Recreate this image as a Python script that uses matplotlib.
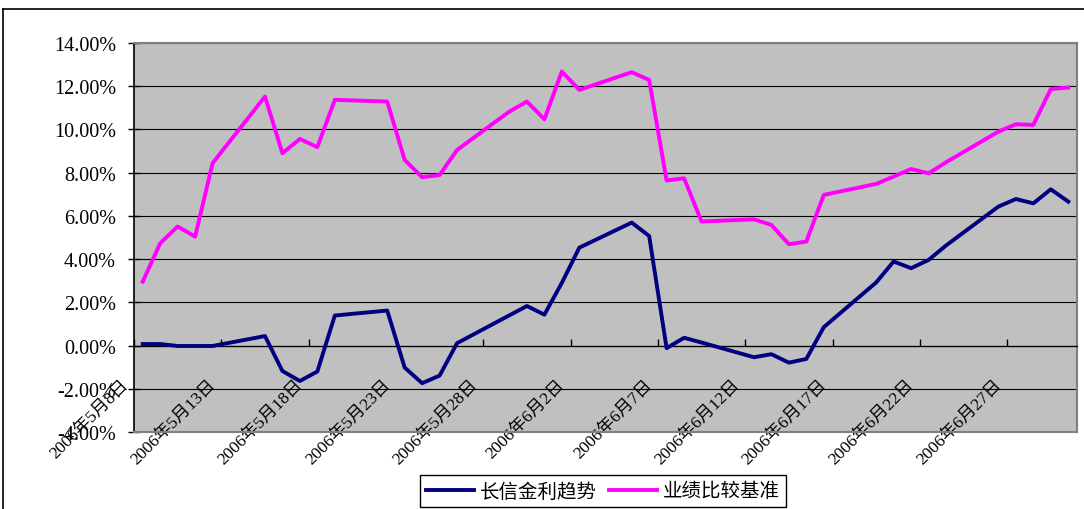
import numpy as np
import matplotlib
matplotlib.use('Agg')
import matplotlib.pyplot as plt
import matplotlib.dates as mdates
from matplotlib.transforms import ScaledTranslation
from matplotlib.lines import Line2D
import datetime as dt

plt.rcParams['font.family'] = ['Liberation Serif', 'Noto Sans CJK SC']

# trading days, 2006
dates = ['05-08', '05-09', '05-10', '05-11', '05-12', '05-15', '05-16', '05-17', '05-18',
         '05-19', '05-22', '05-23', '05-24', '05-25', '05-26', '05-29', '05-30', '05-31',
         '06-01', '06-02', '06-05', '06-06', '06-07', '06-08', '06-09', '06-12', '06-13',
         '06-14', '06-15', '06-16', '06-19', '06-20', '06-21', '06-22', '06-23', '06-26',
         '06-27', '06-28', '06-29', '06-30']

fund = [0.07, 0.07, -0.02, -0.02, -0.02, 0.44, -1.18, -1.64, -1.20,
        1.39, 1.62, -1.02, -1.74, -1.39, 0.11, 1.40, 1.83, 1.43,
        2.90, 4.53, 5.69, 5.07, -0.12, 0.36, 0.14, -0.54, -0.40,
        -0.79, -0.62, 0.85, 2.92, 3.89, 3.58, 3.96, 4.63, 6.43,
        6.78, 6.58, 7.23, 6.66]

bench = [2.96, 4.73, 5.51, 5.04, 8.44, 11.52, 8.90, 9.56, 9.18,
         11.37, 11.29, 8.59, 7.79, 7.89, 9.05, 10.83, 11.29, 10.47,
         12.68, 11.83, 12.65, 12.29, 7.64, 7.74, 5.74, 5.84, 5.58,
         4.69, 4.81, 6.97, 7.48, 7.82, 8.17, 7.97, 8.48, 9.90,
         10.24, 10.21, 11.87, 11.94]

tick_dates = ['05-08', '05-13', '05-18', '05-23', '05-28', '06-02', '06-07',
              '06-12', '06-17', '06-22', '06-27']
yticks = [-4, -2, 0, 2, 4, 6, 8, 10, 12, 14]
names = ['长信金利趋势', '业绩比较基准']


def to_num(s):
    m, d = s.split('-')
    return mdates.date2num(dt.datetime(2006, int(m), int(d)))


x = np.array([to_num(s) for s in dates]) + 0.5   # points sit mid-day
xt = [to_num(s) for s in tick_dates]

fig = plt.figure(figsize=(10.84, 5.10), dpi=100)
ax = fig.add_axes([134/1084, 77/510, 943/1084, 389/510])
ax.set_facecolor('#C0C0C0')

for v in yticks:
    ax.axhline(v, color='black', lw=0.8, zorder=1)

ax.plot(x, fund, color='#000080', lw=2.8, label=names[0], zorder=3)
ax.plot(x, bench, color='#FF00FF', lw=2.8, label=names[1], zorder=3)

ax.set_xlim(to_num('05-08'), to_num('06-30') + 1)
ax.set_ylim(-4, 14)
ax.set_yticks(yticks)
ax.set_yticklabels(['%.2f%%' % v for v in yticks], fontsize=14.5)
ax.tick_params(axis='y', direction='inout', length=8, width=1, pad=9)

# category axis sits at zero
ax.spines['bottom'].set_position(('data', 0))
ax.spines['bottom'].set_color('black')
ax.spines['bottom'].set_linewidth(0.9)
ax.set_xticks(xt)
ax.tick_params(axis='x', direction='in', length=5, width=1, labelbottom=False)
for sp in ['top', 'right']:
    ax.spines[sp].set_color('#808080')
    ax.spines[sp].set_linewidth(1.5)
ax.spines['left'].set_color('black')
ax.spines['left'].set_linewidth(1.2)
ax.plot([0, 1], [0, 0], transform=ax.transAxes, color='#808080', lw=1.5, clip_on=False, zorder=5)

off = ScaledTranslation(-8/100, -36/100, fig.dpi_scale_trans)
for t, s in zip(xt, tick_dates):
    m, d = s.split('-')
    ax.text(t, 0, '2006年%d月%d日' % (int(m), int(d)), transform=ax.transData + off,
            rotation=45, rotation_mode='anchor', ha='right', va='center',
            fontsize=12.5, clip_on=False)

leg = fig.legend(loc='center', bbox_to_anchor=(603/1084, 1 - 492/510), ncol=2,
                 prop={'family': ['Noto Sans CJK SC'], 'size': 14},
                 fancybox=False, edgecolor='black', framealpha=1,
                 handlelength=2.5, handletextpad=0.3, columnspacing=0.6,
                 borderpad=0.3, borderaxespad=0)
leg.get_frame().set_linewidth(1.0)

# outer chart frame
fig.add_artist(Line2D([3/1084, 3/1084], [0, 1 - 10/510], color='black', lw=1.2))
fig.add_artist(Line2D([3/1084, 1], [1 - 10/510, 1 - 10/510], color='black', lw=1.2))

fig.savefig('out.png', dpi=100)
plt.close()
